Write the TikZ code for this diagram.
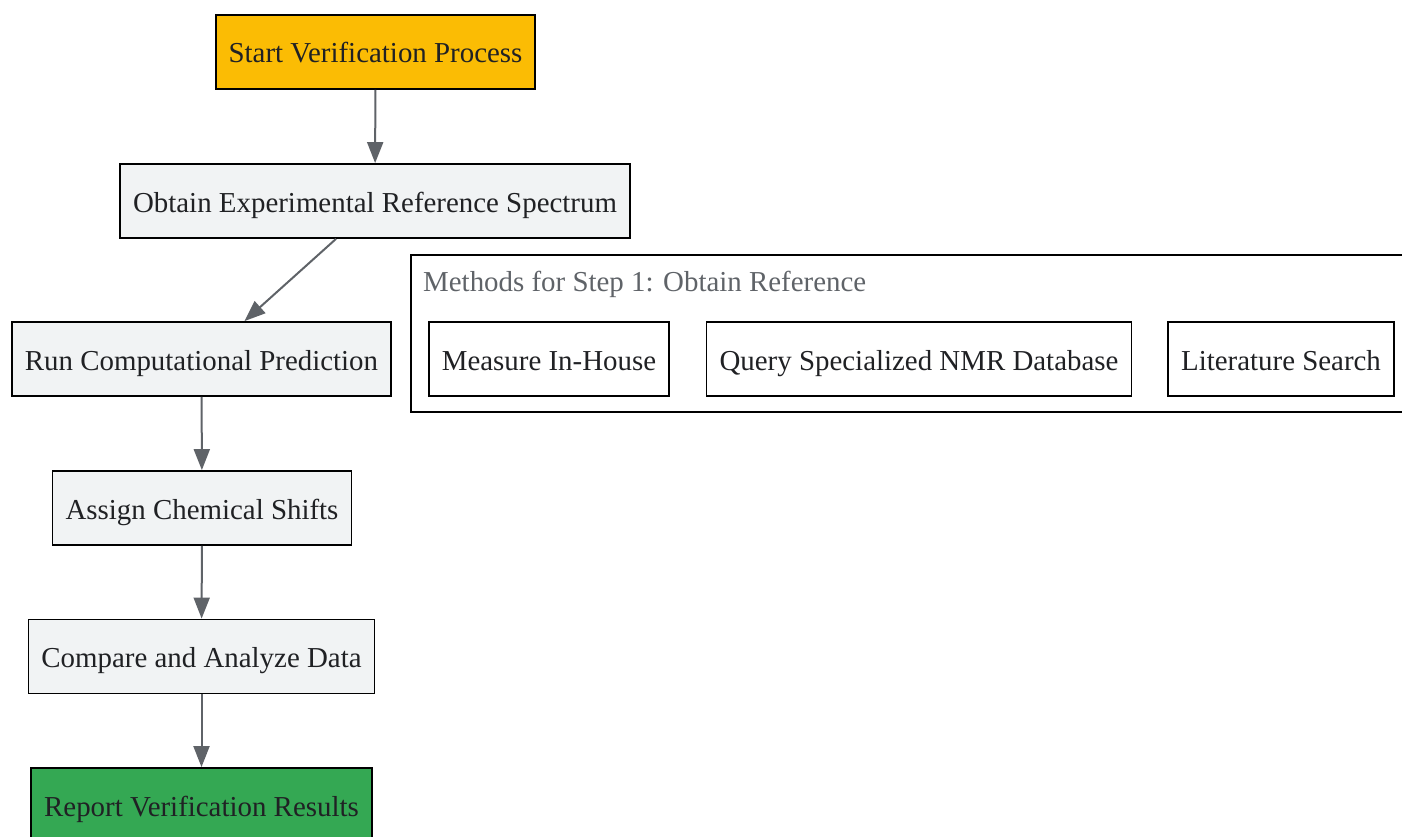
\documentclass[tikz,border=0pt]{standalone}
\usepackage{fontspec}
\setmainfont{Liberation Serif}
\usetikzlibrary{arrows.meta,calc}
\definecolor{startc}{HTML}{FBBC04}
\definecolor{stepc}{HTML}{F1F3F4}
\definecolor{endc}{HTML}{34A853}
\definecolor{linec}{HTML}{5F6368}
\definecolor{textc}{HTML}{202124}
\begin{document}
\begin{tikzpicture}[x=1pt,y=-1pt,>={Triangle[width=16pt,length=21pt]},
    font=\fontsize{28.9}{34}\selectfont,
    stepbox/.style={draw=black,line width=1.8pt,fill=stepc,text=textc,minimum height=74pt,text height=25pt,text depth=3pt,inner xsep=13pt,inner ysep=0pt},
    methodbox/.style={stepbox,fill=white},
    flow/.style={->,draw=linec,line width=2pt}]
            \useasboundingbox (0,0) rectangle (1402,837);
            \clip (0,0) rectangle (1402,837);
            \draw[line width=1.8pt,draw=black] (411,255) rectangle (1430,412);
            \node[anchor=base west,text=linec,inner sep=0pt] (title) at (423,291) {Methods for Step 1: Obtain Reference};
            \node[methodbox] (measure) at (549,359) {Measure In-House};
            \node[methodbox] (query) at (919,359) {Query Specialized NMR Database};
            \node[methodbox] (litsearch) at (1281,359) {Literature Search};
            \node[stepbox,fill=startc] (start) at (375.5,52) {Start Verification Process};
            \node[stepbox] (obtain) at (375,201) {Obtain Experimental Reference Spectrum};
            \node[stepbox] (run) at (201.5,359) {Run Computational Prediction};
            \node[stepbox] (assign) at (202,508) {Assign Chemical Shifts};
            \node[stepbox] (compare) at (201.5,656.5) {Compare and Analyze Data};
            \node[stepbox,fill=endc] (report) at (201.5,805) {Report Verification Results};
            \draw[flow] (start) -- (obtain);
            \draw[flow] ([xshift=-39pt]obtain.south) -- ([xshift=43pt]run.north);
            \draw[flow] (run) -- (assign);
            \draw[flow] (assign) -- (compare);
            \draw[flow] (compare) -- (report);
        \end{tikzpicture}
\end{document}
